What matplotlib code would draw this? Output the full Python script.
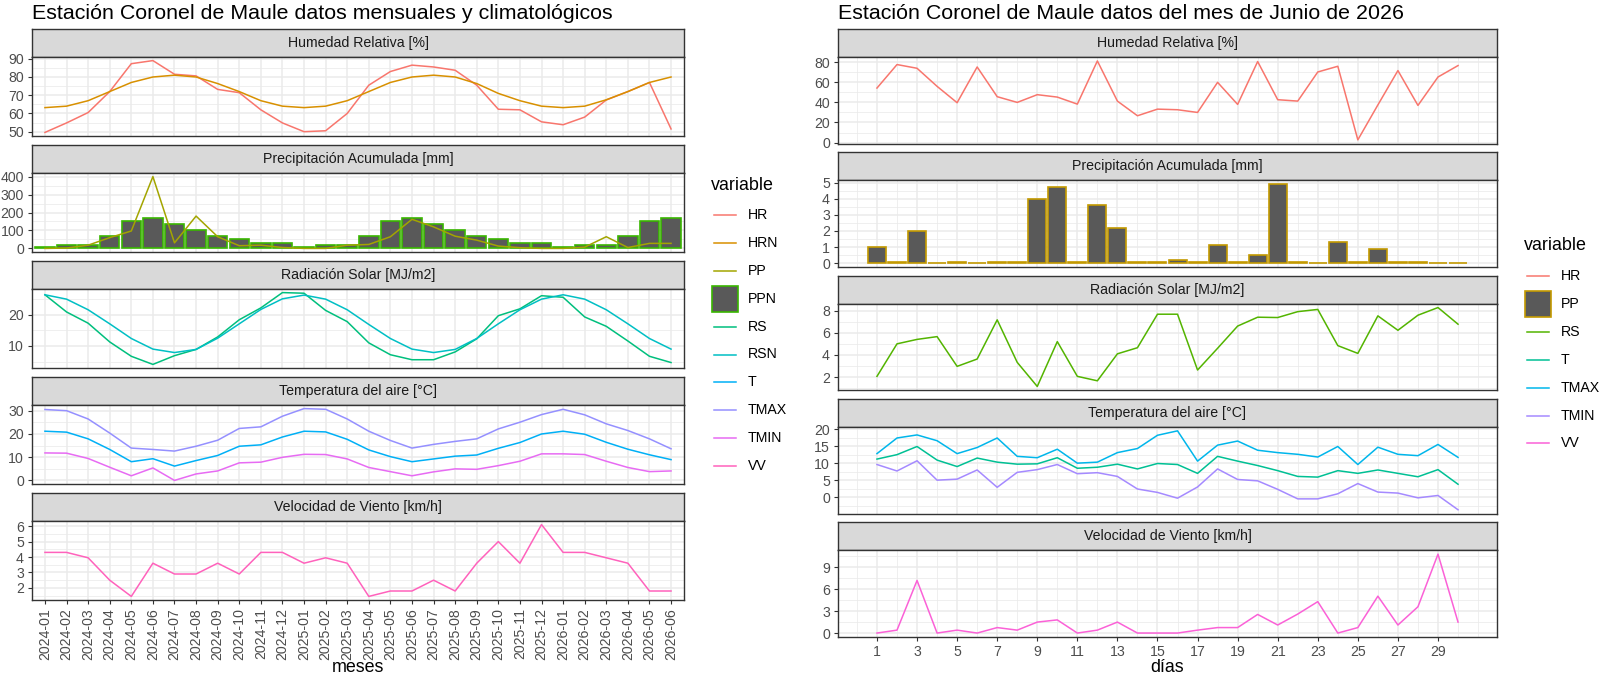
import numpy as np
import matplotlib
matplotlib.use("Agg")
import matplotlib.pyplot as plt
from matplotlib.patches import Rectangle

plt.rcParams['font.family'] = ['Liberation Sans', 'DejaVu Sans']

# ---- datos mensuales (panel izquierdo) ----
meses = ["2024-01", "2024-02", "2024-03", "2024-04", "2024-05", "2024-06",
         "2024-07", "2024-08", "2024-09", "2024-10", "2024-11", "2024-12",
         "2025-01", "2025-02", "2025-03", "2025-04", "2025-05", "2025-06",
         "2025-07", "2025-08", "2025-09", "2025-10", "2025-11", "2025-12",
         "2026-01", "2026-02", "2026-03", "2026-04", "2026-05", "2026-06"]
HR = [49.6, 54.8, 60.5, 72, 87.3, 89, 81.5, 80.6, 73.2, 71.4, 62, 54.8, 50, 50.5, 60,
      75.5, 83, 86.5, 85.5, 83.7, 75.5, 62.3, 62, 55.4, 53.8, 58, 67.4, 72, 77, 51.5]
HRN = [63.2, 64, 67, 72, 77, 80, 81, 80, 76.4, 72, 67, 64, 63.2, 64, 67,
       72, 77, 80, 81, 80, 76.4, 71, 67, 64, 63.2, 64, 67.5, 72, 77, 80]
PP = [0, 2, 18, 60, 97, 400, 31, 180, 65, 15, 18, 5, 0, 0, 18,
      22, 65, 162, 120, 68, 46, 13, 4, 0, 0, 7, 65, 5, 28, 28]
PPN = [10, 18, 18, 68, 150, 172, 135, 100, 68, 50, 28, 28, 10, 18, 18,
       68, 150, 172, 135, 100, 68, 50, 28, 28, 10, 18, 18, 68, 150, 172]
RS = [26.4, 20.9, 17.3, 11.3, 6.7, 4.1, 6.9, 8.9, 12.9, 18.4, 22.2, 27.1, 26.9, 21.4, 17.8,
      11, 7.2, 5.6, 5.6, 8.1, 12.3, 19.7, 21.9, 26.1, 25.6, 19.3, 16.3, 11.6, 6.7, 4.7]
RSN = [26.4, 25, 21.6, 17.1, 12.4, 9, 7.9, 8.9, 12.5, 17.1, 21.7, 25.1, 26.3, 25, 21.6,
       16.9, 12.4, 9, 7.9, 8.9, 12.4, 17.1, 21.6, 25, 26.4, 25, 21.6, 17.1, 12.4, 9]
T = [21.2, 20.8, 17.9, 13.3, 8, 9.3, 6.1, 8.5, 10.7, 14.7, 15.3, 18.7, 21.2, 20.9, 17.7,
     13.1, 10.2, 8, 9.2, 10.4, 10.9, 13.8, 16.3, 20, 21.2, 19.9, 16.4, 13.4, 11, 8.9]
TMAX = [30.6, 30.1, 26.5, 20.4, 13.9, 13.3, 12.6, 14.7, 17.3, 22.4, 23.1, 27.7, 31, 30.7, 26.5,
        21.2, 17.2, 13.9, 15.5, 16.8, 17.9, 22.2, 25.1, 28.4, 30.7, 28.3, 24.4, 21.5, 17.9, 13.6]
TMIN = [11.8, 11.7, 9.4, 5.6, 1.9, 5.3, -0.1, 2.7, 4, 7.5, 7.8, 9.9, 11.2, 11.1, 9.2,
        5.5, 3.7, 1.9, 3.6, 4.9, 4.7, 6.3, 8.2, 11.4, 11.4, 11.1, 8.2, 5.5, 3.7, 4]
VV = [4.3, 4.3, 3.95, 2.5, 1.45, 3.6, 2.9, 2.9, 3.6, 2.9, 4.3, 4.3, 3.6, 3.95, 3.6,
      1.45, 1.8, 1.8, 2.5, 1.8, 3.6, 5.0, 3.6, 6.1, 4.3, 4.3, 3.95, 3.6, 1.8, 1.8]

# ---- datos diarios junio 2026 (panel derecho) ----
dias = list(range(1, 31))
HR_d = [54.3, 77.7, 74, 56, 39.7, 75.3, 45.7, 40, 47.7, 45.3, 38.3, 81.3, 41.3, 26.7, 33.3,
        32.7, 30, 60, 38, 80.7, 42.7, 41.3, 70.3, 76, 2.7, 37.5, 71.7, 37, 65.3, 76.7]
PP_d = [1.0, 0.1, 2.0, 0, 0.1, 0, 0.1, 0.1, 4.0, 4.7, 0.1, 3.6, 2.2, 0.1, 0.1,
        0.2, 0.1, 1.1, 0.1, 0.5, 4.9, 0.1, 0, 1.3, 0.1, 0.9, 0.1, 0.1, 0, 0]
RS_d = [2.07, 5.0, 5.4, 5.65, 2.97, 3.63, 7.16, 3.33, 1.16, 5.2, 2.07, 1.67, 4.1, 4.65, 7.67,
        7.67, 2.64, 4.6, 6.6, 7.4, 7.37, 7.9, 8.1, 4.84, 4.14, 7.52, 6.22, 7.58, 8.27, 6.77]
T_d = [11.2, 12.5, 14.9, 10.9, 9, 11.5, 10.3, 9.7, 9.8, 11.6, 8.5, 8.8, 9.7, 8.3, 9.9,
       9.6, 7, 12, 10.6, 9.3, 7.8, 6.1, 5.9, 7.8, 7, 8, 7, 6, 8.1, 3.8]
TMAX_d = [12.8, 17.4, 18.3, 16.6, 12.8, 14.6, 17.4, 12, 11.6, 14.1, 10, 10.3, 13.1, 14.3, 18.2,
          19.5, 10.6, 15.3, 16.5, 13.8, 13.1, 12.6, 11.8, 14.9, 9.6, 14.7, 12.6, 12.2, 15.5, 11.7]
TMIN_d = [9.6, 7.7, 10.7, 5, 5.3, 8, 2.9, 7.3, 8.1, 9.6, 6.9, 7.2, 6.1, 2.4, 1.4,
          -0.3, 3, 8.3, 5.2, 4.8, 2.3, -0.5, -0.5, 1, 4, 1.5, 1.2, -0.2, 0.5, -3.7]
VV_d = [0, 0.4, 7.2, 0, 0.4, 0, 0.75, 0.4, 1.5, 1.8, 0, 0.4, 1.5, 0, 0,
        0, 0.4, 0.75, 0.75, 2.55, 1.1, 2.6, 4.3, 0, 0.75, 5.05, 1.1, 3.6, 10.8, 1.5]

# colores (paleta hue de ggplot)
colL = {"HR": "#F8766D", "HRN": "#D89000", "PP": "#A3A500", "PPN": "#39B600", "RS": "#00BF7D",
        "RSN": "#00BFC4", "T": "#00B0F6", "TMAX": "#9590FF", "TMIN": "#E76BF3", "VV": "#FF62BC"}
colR = {"HR": "#F8766D", "PP": "#C49A00", "RS": "#53B400", "T": "#00C094",
        "TMAX": "#00B6EB", "TMIN": "#A58AFF", "VV": "#FB61D7"}

W, H = 1600, 676
fig = plt.figure(figsize=(16, 6.76), dpi=100)

STRIP = 28
TOP = 29
TICK_FS = 10.2
BORDER = "#333333"
TXT = "#4D4D4D"
LW = 1.1


def box(x0, y0, x1, y1):
    return [x0 / W, 1 - y1 / H, (x1 - x0) / W, (y1 - y0) / H]


def minor_ticks(major, lo, hi):
    d = major[1] - major[0]
    cand = np.arange(major[0] - d, major[-1] + d + d / 4, d / 2)
    return [c for c in cand if lo <= c <= hi and not np.isclose(c, major).any()]


def facet(i, x0, x1, ph, gap, title, xlim):
    top = TOP + i * (STRIP + ph + gap)
    st = fig.add_axes(box(x0, top, x1, top + STRIP))
    st.set_facecolor("#D9D9D9")
    st.set_xticks([])
    st.set_yticks([])
    for s in st.spines.values():
        s.set_color(BORDER)
        s.set_linewidth(1.0)
    st.text(0.5, 0.5, title, ha="center", va="center", fontsize=TICK_FS,
            color="#1A1A1A", transform=st.transAxes)
    ax = fig.add_axes(box(x0, top + STRIP, x1, top + STRIP + ph))
    ax.set_xlim(xlim)
    ax.set_axisbelow(True)
    for s in ax.spines.values():
        s.set_color(BORDER)
        s.set_linewidth(1.0)
    ax.tick_params(axis="both", length=3.2, width=0.8, color=BORDER,
                   labelsize=TICK_FS, labelcolor=TXT, pad=2.6)
    return ax


def finish(ax, series, yticks, xmajor, xminor=None, bars=False, bottom=False):
    vals = np.concatenate([np.asarray(s, float) for s in series])
    lo, hi = vals.min(), vals.max()
    if bars:
        lo = min(lo, 0)
    pad = 0.05 * (hi - lo)
    lo, hi = lo - pad, hi + pad
    ax.set_ylim(lo, hi)
    ax.set_yticks(yticks)
    ax.set_yticks(minor_ticks(yticks, lo, hi), minor=True)
    ax.tick_params(axis="y", which="minor", length=0)
    ax.set_xticks(xmajor)
    if xminor is not None:
        ax.set_xticks(xminor, minor=True)
    ax.tick_params(axis="x", which="minor", length=0)
    if not bottom:
        ax.tick_params(axis="x", length=0, labelbottom=False)
    ax.grid(True, which="major", color="#EBEBEB", linewidth=1.1)
    ax.grid(True, which="minor", color="#EBEBEB", linewidth=0.55)


# ================= izquierda: mensual =================
LX0, LX1 = 32, 684
PHL, GAPL = 79, 9
xm = np.arange(1, len(meses) + 1)
xlimL = (0.4, len(meses) + 0.6)

ax = facet(0, LX0, LX1, PHL, GAPL, "Humedad Relativa [%]", xlimL)
ax.plot(xm, HR, color=colL["HR"], lw=LW)
ax.plot(xm, HRN, color=colL["HRN"], lw=LW)
finish(ax, [HR, HRN], [50, 60, 70, 80, 90], xm)

ax = facet(1, LX0, LX1, PHL, GAPL, "Precipitación Acumulada [mm]", xlimL)
ax.bar(xm, PPN, width=0.9, color="#595959", edgecolor=colL["PPN"], linewidth=1.2)
ax.plot(xm, PP, color=colL["PP"], lw=LW)
finish(ax, [PP, PPN], [0, 100, 200, 300, 400], xm, bars=True)

ax = facet(2, LX0, LX1, PHL, GAPL, "Radiación Solar [MJ/m2]", xlimL)
ax.plot(xm, RS, color=colL["RS"], lw=LW)
ax.plot(xm, RSN, color=colL["RSN"], lw=LW)
finish(ax, [RS, RSN], [10, 20], xm)

ax = facet(3, LX0, LX1, PHL, GAPL, "Temperatura del aire [°C]", xlimL)
ax.plot(xm, T, color=colL["T"], lw=LW)
ax.plot(xm, TMAX, color=colL["TMAX"], lw=LW)
ax.plot(xm, TMIN, color=colL["TMIN"], lw=LW)
finish(ax, [T, TMAX, TMIN], [0, 10, 20, 30], xm)

ax = facet(4, LX0, LX1, PHL, GAPL, "Velocidad de Viento [km/h]", xlimL)
ax.plot(xm, VV, color=colL["VV"], lw=LW)
finish(ax, [VV], [2, 3, 4, 5, 6], xm, bottom=True)
ax.set_xticklabels(meses, rotation=90, ha="center", va="top")

fig.text((LX0 + LX1) / 2 / W, 1 - 672 / H, "meses", ha="center", va="baseline", fontsize=12.9)
fig.text(LX0 / W, 1 - 19 / H, "Estación Coronel de Maule datos mensuales y climatológicos",
         ha="left", va="baseline", fontsize=15.4)

# ================= derecha: diario =================
RX0, RX1 = 838, 1497
PHR, GAPR = 86.8, 8.5
xlimR = (0.55 - 0.05 * 29.9, 30.45 + 0.05 * 29.9)
xmajR = np.arange(1, 30, 2)
xminR = minor_ticks(list(xmajR), *xlimR)

ax = facet(0, RX0, RX1, PHR, GAPR, "Humedad Relativa [%]", xlimR)
ax.plot(dias, HR_d, color=colR["HR"], lw=LW)
finish(ax, [HR_d], [0, 20, 40, 60, 80], xmajR, xminR)

ax = facet(1, RX0, RX1, PHR, GAPR, "Precipitación Acumulada [mm]", xlimR)
ax.bar(dias, PP_d, width=0.9, color="#595959", edgecolor=colR["PP"], linewidth=1.2)
finish(ax, [PP_d], [0, 1, 2, 3, 4, 5], xmajR, xminR, bars=True)

ax = facet(2, RX0, RX1, PHR, GAPR, "Radiación Solar [MJ/m2]", xlimR)
ax.plot(dias, RS_d, color=colR["RS"], lw=LW)
finish(ax, [RS_d], [2, 4, 6, 8], xmajR, xminR)

ax = facet(3, RX0, RX1, PHR, GAPR, "Temperatura del aire [°C]", xlimR)
ax.plot(dias, T_d, color=colR["T"], lw=LW)
ax.plot(dias, TMAX_d, color=colR["TMAX"], lw=LW)
ax.plot(dias, TMIN_d, color=colR["TMIN"], lw=LW)
finish(ax, [T_d, TMAX_d, TMIN_d], [0, 5, 10, 15, 20], xmajR, xminR)

ax = facet(4, RX0, RX1, PHR, GAPR, "Velocidad de Viento [km/h]", xlimR)
ax.plot(dias, VV_d, color=colR["VV"], lw=LW)
finish(ax, [VV_d], [0, 3, 6, 9], xmajR, xminR, bottom=True)

fig.text((RX0 + RX1) / 2 / W, 1 - 672 / H, "días", ha="center", va="baseline", fontsize=12.9)
fig.text(RX0 / W, 1 - 19 / H, "Estación Coronel de Maule datos del mes de Junio de 2026",
         ha="left", va="baseline", fontsize=15.4)

# ================= leyendas =================
ov = fig.add_axes([0, 0, 1, 1])
ov.set_xlim(0, W)
ov.set_ylim(H, 0)
ov.axis("off")


def legend(x, ytitle, y0, names, colors, box_name):
    ov.text(x - 1, ytitle, "variable", ha="left", va="center", fontsize=12.9)
    for k, name in enumerate(names):
        y = y0 + 27.9 * k
        if name == box_name:
            ov.add_patch(Rectangle((x, y - 13), 26, 26, facecolor="#595959",
                                   edgecolor=colors[name], linewidth=1.2))
        else:
            ov.plot([x + 2, x + 24], [y, y], color=colors[name], lw=LW)
        ov.text(x + 36, y, name, ha="left", va="center", fontsize=TICK_FS)


legend(712, 185, 215, list(colL.keys()), colL, "PPN")
legend(1525, 245, 276, list(colR.keys()), colR, "PP")

fig.savefig("out.png", dpi=100)
